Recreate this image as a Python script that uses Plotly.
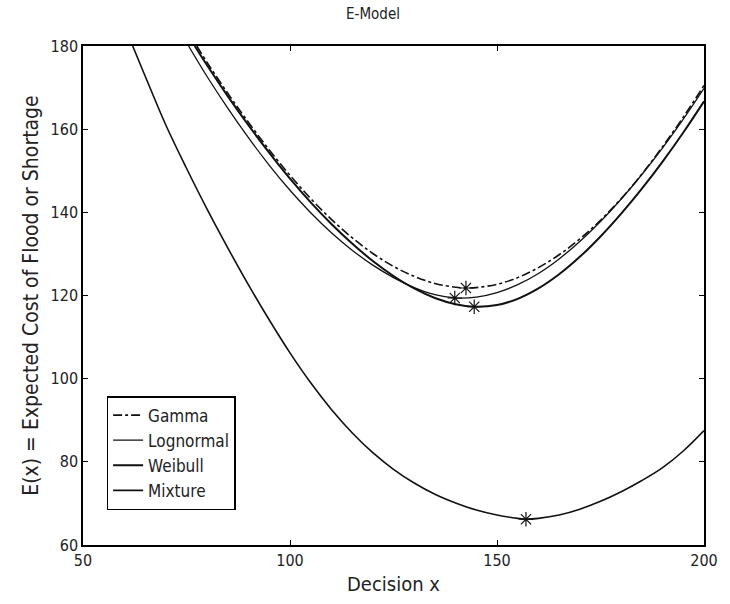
import plotly.graph_objects as go

# ---- data ----
x_gamma = [77.5, 80, 85, 90, 95, 100, 105, 110, 115, 120, 125, 130, 135, 140, 142.5, 145, 150, 155, 160, 165, 170, 175, 180, 185, 190, 195, 200]
y_gamma = [180, 176, 168.6, 161.6, 155.0, 148.9, 143.3, 138.3, 133.9, 130.1, 127.0, 124.6, 122.9, 122.0, 121.8, 121.9, 122.7, 124.3, 126.7, 129.8, 133.6, 138.1, 143.3, 149.2, 155.8, 162.9, 170.5]

x_logn = [75.5, 80, 85, 90, 95, 100, 105, 110, 115, 120, 125, 130, 135, 140, 145, 150, 155, 160, 165, 170, 175, 180, 185, 190, 195, 200]
y_logn = [180, 172.6, 165.0, 157.9, 151.3, 145.3, 139.9, 135.1, 130.9, 127.3, 124.3, 121.9, 120.2, 119.4, 119.6, 120.7, 122.6, 125.3, 128.8, 133.0, 137.8, 143.2, 149.1, 155.5, 162.4, 169.8]

x_weib = [77, 80, 85, 90, 95, 100, 105, 110, 115, 120, 125, 130, 135, 140, 144.5, 150, 155, 160, 165, 170, 175, 180, 185, 190, 195, 200]
y_weib = [180, 175.3, 167.9, 160.9, 154.3, 148.1, 142.4, 137.2, 132.5, 128.3, 124.7, 121.7, 119.4, 117.9, 117.3, 117.7, 119.2, 121.7, 125.1, 129.3, 134.2, 139.7, 145.7, 152.2, 159.2, 166.7]

x_mix = [62, 65, 70, 75, 80, 85, 90, 95, 100, 105, 110, 115, 120, 125, 130, 135, 140, 145, 150, 155, 157, 160, 165, 170, 175, 180, 185, 190, 195, 200]
y_mix = [180, 172.8, 161.0, 150.6, 140.7, 131.4, 122.5, 114.1, 106.2, 99.0, 92.6, 87.0, 82.2, 78.2, 74.9, 72.2, 70.1, 68.4, 67.2, 66.4, 66.2, 66.4, 67.2, 68.6, 70.5, 72.8, 75.5, 78.6, 82.6, 87.5]

names = ["Gamma", "Lognormal", "Weibull", "Mixture"]
opt_x = [142.5, 139.8, 144.5, 157]
opt_y = [121.8, 119.4, 117.3, 66.2]

x_ticks = [50, 100, 150, 200]
y_ticks = [60, 80, 100, 120, 140, 160, 180]

FONT = "Liberation Sans Narrow, DejaVu Sans Condensed, Liberation Sans, Arial"

fig = go.Figure()
series = [(x_gamma, y_gamma, "dashdot", 1.6), (x_logn, y_logn, "solid", 1.3),
          (x_weib, y_weib, "solid", 2.0), (x_mix, y_mix, "solid", 1.6)]
for (xs, ys, dash, w), nm in zip(series, names):
    fig.add_trace(go.Scatter(x=xs, y=ys, mode="lines", name=nm, line_shape="spline",
                             line=dict(color="#111", width=w, dash=dash)))

fig.add_trace(go.Scatter(x=opt_x, y=opt_y, mode="markers", showlegend=False,
                         marker=dict(symbol="asterisk-open", size=12,
                                     line=dict(color="#111", width=1.2), color="#111")))

axis_common = dict(showline=True, linecolor="black", linewidth=1.5, mirror="ticks",
                   ticks="inside", ticklen=5, tickcolor="black", showgrid=False, zeroline=False,
                   tickfont=dict(family=FONT, size=16, color="#222"))

fig.update_layout(
    width=730, height=604,
    margin=dict(l=83, r=17, t=46, b=59),
    paper_bgcolor="white", plot_bgcolor="white",
    title=dict(text="E-Model", x=0.467, xref="paper", xanchor="center",
               y=1 - 14 / 604, yref="container", yanchor="middle",
               font=dict(family=FONT, size=15, color="#222")),
    xaxis=dict(range=[50, 200], tickvals=x_ticks,
               title=dict(text="Decision x", standoff=8, font=dict(family=FONT, size=20, color="#222")),
               **axis_common),
    yaxis=dict(range=[60, 180], tickvals=y_ticks,
               title=dict(text="E(x) = Expected Cost of Flood or Shortage", standoff=6,
                          font=dict(family=FONT, size=21, color="#222")),
               **axis_common),
    legend=dict(x=0.038, y=0.07, xanchor="left", yanchor="bottom",
                bgcolor="white", bordercolor="black", borderwidth=1.5,
                itemwidth=30, tracegroupgap=0,
                font=dict(family=FONT, size=17, color="#222")),
    showlegend=True,
)

fig.write_html("out.html")
